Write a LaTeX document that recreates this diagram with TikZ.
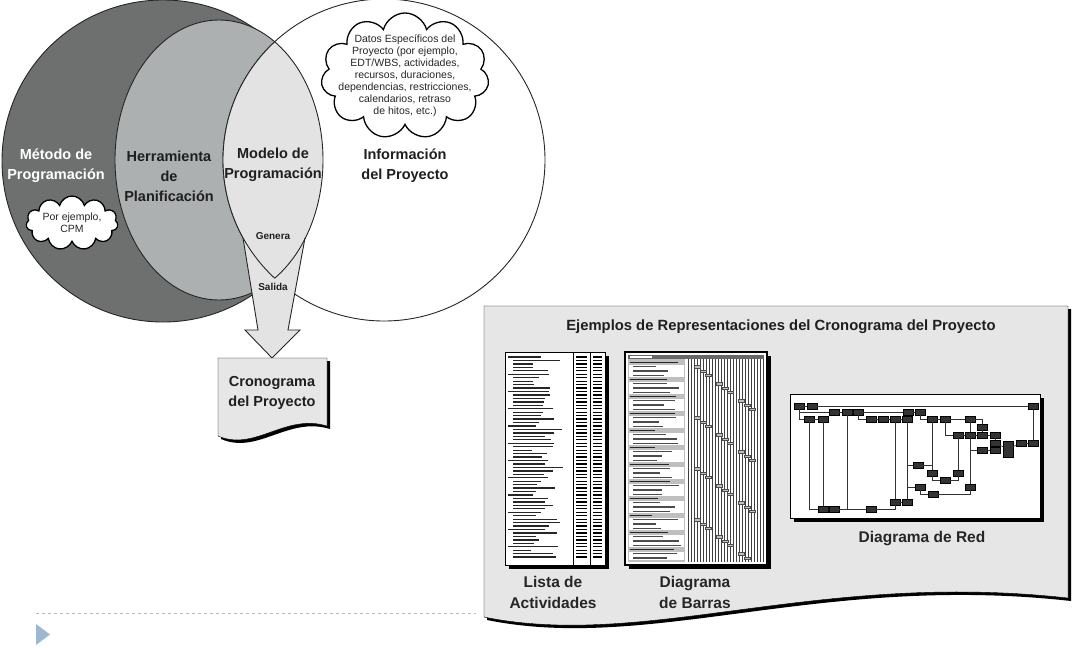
\documentclass[tikz,border=0pt]{standalone}
\usepackage{fontspec}
\setmainfont{Liberation Sans}
\usetikzlibrary{shapes.symbols,positioning}
\definecolor{metodogray}{HTML}{6E7070}
\definecolor{herramgray}{HTML}{ADB0B0}
\definecolor{modelogray}{HTML}{E3E3E3}
\definecolor{panelgray}{HTML}{E6E6E6}
\definecolor{navline}{HTML}{A9BCD0}
\definecolor{navtri}{HTML}{9DB7D0}

\begin{document}
\begin{tikzpicture}[x=1pt,y=-1pt,
    bigtxt/.style={font=\fontsize{14.5}{20}\selectfont\bfseries,align=center,inner sep=0pt,text=black!88},
    labeltxt/.style={font=\fontsize{15.5}{21}\selectfont\bfseries,align=center,inner sep=0pt,text=black!85},
    smalltxt/.style={font=\fontsize{10}{12}\selectfont\bfseries,inner sep=0pt,text=black!88},
    cloudtxt/.style={font=\fontsize{10.5}{12}\selectfont,align=center,inner sep=0pt,text=black!85},
    cloudbox/.style={cloud,cloud puffs=11,cloud ignores aspect,draw,line width=1.3pt,fill=white,inner sep=0pt},
    ring/.style={draw=black!85,line width=0.9pt},
    listline/.style={line width=1.3pt,black!85},
    netbox/.style={draw=black,fill=black!80,minimum width=10pt,minimum height=5.5pt,inner sep=0pt},
    netline/.style={black!80,line width=0.6pt}]
    \useasboundingbox[fill=white] (0,0) rectangle (1085,648);
    \pgfmathsetseed{5}

    % Venn of the three areas
    \filldraw[ring,fill=metodogray] (163,161) circle [radius=161];
    \filldraw[ring,fill=herramgray] (219,160) ellipse [x radius=104,y radius=140];
    \filldraw[ring,fill=white] (384,160) circle [radius=161];
    \begin{scope}
        \clip (384,160) circle [radius=161];
        \fill[modelogray] (219,160) ellipse [x radius=104,y radius=140];
    \end{scope}

    % output arrow
    \fill[modelogray] (243,238) -- (305,238) -- (288,330) -- (300,330) -- (272,358) -- (245,330) -- (258,330) -- cycle;
    \draw[ring] (243,238) -- (258,330) -- (245,330) -- (272,358) -- (300,330) -- (288,330) -- (305,238);
    \begin{scope}
        \clip (384,160) circle [radius=161];
        \draw[ring] (219,160) ellipse [x radius=104,y radius=140];
    \end{scope}
    \begin{scope}
        \clip (219,160) ellipse [x radius=104,y radius=140];
        \draw[ring] (384,160) circle [radius=161];
    \end{scope}

    \node[bigtxt,text=white] (metodo) at (56,166) {Método de\\Programación};
    \node[bigtxt] (herramienta) at (169,176) {Herramienta\\de\\Planificación};
    \node[bigtxt] (modelo) at (273,165) {Modelo de\\Programación};
    \node[bigtxt] (info) at (405,166) {Información\\del Proyecto};
    \node[smalltxt] (genera) at (273,236) {Genera};
    \node[smalltxt] (salida) at (273,287) {Salida};

    % clouds
    \node[cloudbox,minimum width=92pt,minimum height=54pt] (cpmcloud) at (72,223) {};
    \node[cloudtxt] (cpmtxt) at (cpmcloud) {Por ejemplo,\\CPM};
    \node[cloudbox,minimum width=168pt,minimum height=126pt] (datoscloud) at (405,76) {};
    \node[cloudtxt] (datostxt) at (datoscloud) {Datos Específicos del\\Proyecto (por ejemplo,\\EDT/WBS, actividades,\\recursos, duraciones,\\dependencias, restricciones,\\calendarios, retraso\\de hitos, etc.)};

    % schedule document
    \fill[black] (221,361) -- (330,361) -- (330,429) .. controls (288,416) and (258,455) .. (221,439) -- cycle;
    \filldraw[draw=black,fill=panelgray] (218,358) -- (327,358) -- (327,426) .. controls (285,413) and (255,452) .. (218,436) -- cycle;
    \node[bigtxt] (crono) at (272,393) {Cronograma\\del Proyecto};

    % examples panel
    \fill[black] (487,309) -- (1071,309) -- (1071,601) .. controls (820,573) and (650,653) .. (487,620) -- cycle;
    \filldraw[draw=black,fill=panelgray] (484,306) -- (1068,306) -- (1068,598) .. controls (817,570) and (647,650) .. (484,617) -- cycle;
    \node[font=\fontsize{14.8}{16}\selectfont\bfseries,text=black!88] (ejemplos) at (781,327) {Ejemplos de Representaciones del Cronograma del Proyecto};

    % activity list
    \fill[black] (509,356) rectangle (609,569);
    \filldraw[draw=black,fill=white] (505,352) rectangle (605,565);
    \draw (573,352) -- (573,565);
    \draw (590,352) -- (590,565);
    \foreach \i in {0,...,58}{
        \pgfmathsetmacro{\yy}{357+3.45*\i}
        \pgfmathsetmacro{\ind}{mod(\i,5)==0 ? 0 : 5}
        \pgfmathsetmacro{\len}{18+32*rnd}
        \draw[listline] (508+\ind,\yy) -- ++(\len,0);
        \draw[listline,black] (576,\yy) -- (587,\yy);
        \draw[listline,black] (593,\yy) -- (602,\yy);
    }

    % bar chart
    \fill[black] (629,356) rectangle (771,569);
    \filldraw[draw=black,line width=1.5pt,fill=white] (625,352) rectangle (767,565);
    \fill[black!25] (628,355) rectangle (685,562);
    \foreach \gx in {688,691,...,764}
        \draw[black!75,line width=0.6pt] (\gx,359) -- (\gx,562);
    \fill[black!60] (628,355) rectangle (764,359);
    \fill[white] (630,355.8) rectangle (652,358.2);
    \foreach \i in {0,...,46}{
        \pgfmathsetmacro{\yy}{362.5+4.25*\i}
        \pgfmathsetmacro{\len}{22+26*rnd}
        \pgfmathtruncatemacro{\hd}{mod(\i,4)==0 ? 1 : 0}
        \ifnum\hd=1
            \draw[line width=1.4pt,black!85] (630,\yy) -- ++(\len,0);
        \else
            \fill[white] (629,\yy-1.9) rectangle (684,\yy+1.9);
            \draw[line width=1.1pt,black!70] (633,\yy) -- ++(\len,0);
            \pgfmathsetmacro{\bx}{689+5.5*mod(\i,12)}
            \filldraw[draw=black!70,fill=black!25,line width=0.4pt] (\bx,\yy-1.2) rectangle ++(6,2.4);
        \fi
    }

    % network diagram
    \fill[black] (794,398) rectangle (1044,522);
    \filldraw[draw=black,line width=1pt,fill=white] (790,394) rectangle (1040,518);
    \foreach \n/\x/\y in {b1/799/406, b2/812/406, bz/1033/406,
        c1/834/412, c2/847/412, c3/858/412, d1/908/412, d2/920/412,
        e1/809/419, e2/823/419, f1/871/419, f2/883/419, f3/895/419, f4/907/419,
        g1/932/419, g2/945/419, h1/970/419, i1/982/427,
        j1/958/435, j2/970/435, j3/982/435, j4/995/435,
        k1/995/443, m1/1021/443, m2/1033/443, n1/982/450, n2/995/450,
        o1/918/465, p1/932/473, p2/958/473, q1/945/480, r1/920/487, r2/970/487,
        s1/933/494, t1/895/502, t2/907/502, u1/823/509, u2/834/509, v1/871/509}
        \node[netbox] (\n) at (\x,\y) {};
    \node[netbox,minimum height=16pt] (l1) at (1008,449) {};
    \foreach \a/\b in {b1/b2, b2/bz, c1/c2, c2/c3, c3/d1, d1/d2, e1/e2, f1/f2, f2/f3, f3/f4,
        g1/g2, g2/h1, j1/j2, j2/j3, j3/j4, l1/m1, m1/m2, n1/n2, u1/u2, u2/v1, t1/t2,
        i1/j3, j4/k1, k1/l1, m2/bz, e2/u1, f3/t1, f4/t2, g1/p1, h1/j2, j2/r2, j1/p2}
        \draw[netline] (\a) -- (\b);
    \foreach \a/\b in {b1/c1, b1/e1, e1/u1, c3/f1, c2/u2, f4/o1, f4/r1, d2/g1,
        p1/q1, r1/s1, g2/j1, j2/n1}
        \draw[netline] (\a) |- (\b);
    \foreach \a/\b in {v1/t1, o1/p1, q1/p2, s1/r2, h1/i1}
        \draw[netline] (\a) -| (\b);

    \node[labeltxt] (lista) at (553,592) {Lista de\\Actividades};
    \node[labeltxt] (barras) at (695,592) {Diagrama\\de Barras};
    \node[labeltxt] (red) at (922,539) {Diagrama de Red};

    % slide navigation
    \draw[navline,dashed,line width=0.8pt] (36,613) -- (476,613);
    \fill[navtri] (36,624) -- (50,634.5) -- (36,645) -- cycle;
\end{tikzpicture}
\end{document}
